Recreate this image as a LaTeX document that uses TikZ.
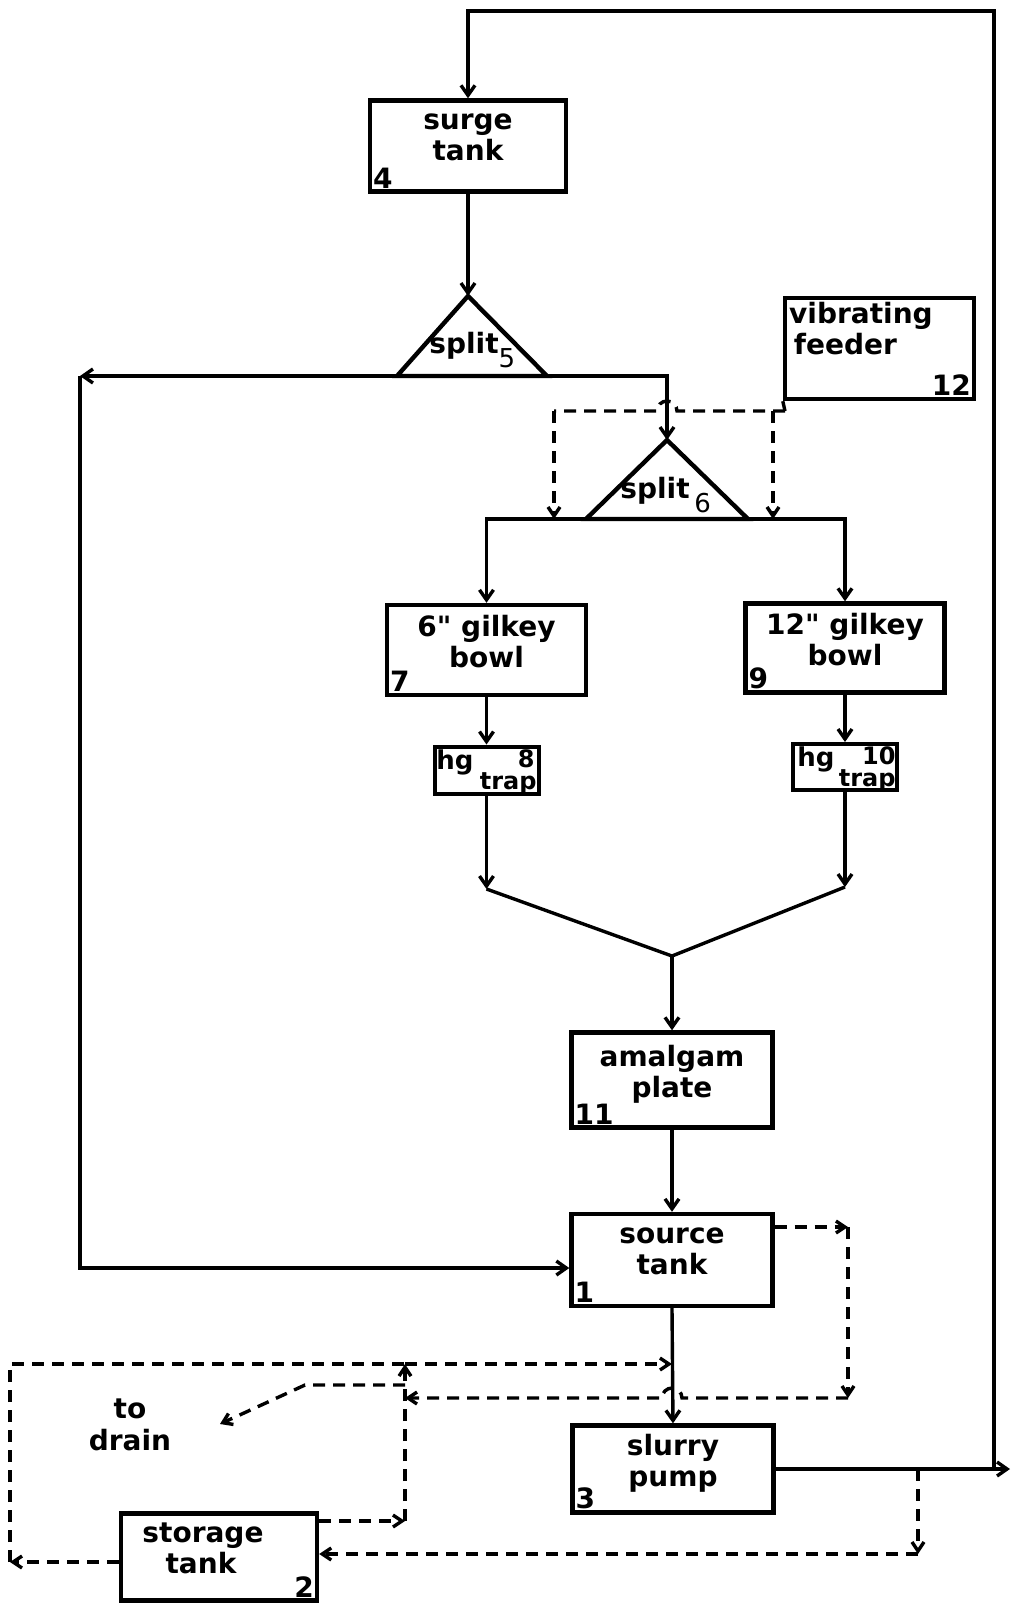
\documentclass[tikz,border=0pt]{standalone}
\usepackage{fontspec}
\setmainfont{DejaVu Sans}
\usetikzlibrary{arrows.meta,positioning,calc}
\tikzset{
  unit/.style    ={draw,line width=2.2pt,minimum width=100pt,minimum height=45pt,inner sep=0pt,align=center,font=\fontsize{14}{15.5}\selectfont\bfseries},
  tag/.style     ={inner sep=2.5pt,font=\fontsize{14}{14}\selectfont\bfseries},
  trapbox/.style ={draw,line width=2pt,minimum width=52pt,minimum height=23.5pt,inner sep=0pt},
  hglbl/.style   ={inner sep=0pt,font=\fontsize{13}{13}\selectfont\bfseries},
  traplbl/.style ={inner sep=0pt,font=\fontsize{12}{12}\selectfont\bfseries},
  splitlbl/.style={inner sep=0pt,font=\fontsize{14}{14}\selectfont\bfseries},
  splitter/.style={line width=2.2pt,line join=miter},
  pipe/.style    ={line width=1.7pt},
  flow/.style    ={pipe,-{Straight Barb[length=5pt,width=7pt]}},
  bypass/.style  ={line width=1.7pt,dash pattern=on 6pt off 4pt},
  bflow/.style   ={bypass,-{Straight Barb[length=4.5pt,width=6pt]}},
}
\newcommand{\uptext}[1]{#1\\[-7pt]\mbox{}}
\begin{document}
\begin{tikzpicture}[x=0.5pt,y=-0.5pt]
  \useasboundingbox (0,0) rectangle (1012,1603);
  \node[unit,minimum width=98pt,minimum height=45.5pt](surge) at (468,146){\uptext{surge\\tank}};
  \node[unit,minimum width=94.5pt,minimum height=50.5pt](feeder) at (879.5,348.5){};
  \node[anchor=north west,inner sep=3pt,align=left,font=\fontsize{14}{15.5}\selectfont\bfseries](feedtxt) at (feeder.north west){vibrating\\\,feeder};
  \node[unit,minimum width=99.5pt](bowl6) at (486.5,650){\uptext{6\textquotedbl\ gilkey\\bowl}};
  \node[unit,minimum width=99.5pt,minimum height=44.5pt](bowl12) at (845,648){\uptext{12\textquotedbl\ gilkey\\bowl}};
  \node[unit,minimum width=100.5pt,minimum height=47.5pt](plate) at (672,1080){\uptext{amalgam\\plate}};
  \node[unit,minimum width=100.5pt,minimum height=46pt](source) at (672,1260){\uptext{source\\tank}};
  \node[unit,minimum width=100.5pt,minimum height=43.5pt](pump) at (673,1469){\uptext{slurry\\pump}};
  \node[unit,minimum width=98pt,minimum height=43.5pt](storage) at (219,1557){\uptext{storage\rule{16pt}{0pt}\\tank\rule{18pt}{0pt}}};
  \foreach \b/\n in {surge/4,bowl6/7,bowl12/9,plate/11,source/1,pump/3}{\node[tag,anchor=south west](n\n) at (\b.south west){\n};}
  \foreach \b/\n in {feeder/12,storage/2}{\node[tag,anchor=south east](n\n) at (\b.south east){\n};}

  \node[trapbox](trap8) at (486.5,770){};
  \node[trapbox,minimum width=52pt,minimum height=23pt](trap10) at (845,767){};
  \node[hglbl,anchor=base west](hg8) at (436,769){hg};
  \node[traplbl,anchor=base east](tr8) at (537,789){trap};
  \node[traplbl,anchor=base east](num8) at (535,767){8};
  \node[hglbl,anchor=base west](hg10) at (797,766){hg};
  \node[traplbl,anchor=base east](tr10) at (896,786){trap};
  \node[traplbl,anchor=base east](num10) at (896,764){10};

  \coordinate (s5) at (468,296); \coordinate (s5l) at (397,376); \coordinate (s5r) at (547,376);
  \coordinate (s6) at (667,440); \coordinate (s6l) at (586,519); \coordinate (s6r) at (748,519);
  \draw[splitter](s5)--(s5l)--(s5r)--cycle;
  \draw[splitter](s6)--(s6l)--(s6r)--cycle;
  \node[splitlbl,anchor=base west](s5txt) at (429,353){split\raisebox{-7pt}{\fontsize{13}{13}\selectfont\mdseries 5}};
  \node[splitlbl,anchor=base west](s6txt) at (620,498){split\,\raisebox{-7pt}{\fontsize{13}{13}\selectfont\mdseries 6}};

  \coordinate (rtop) at (994,11); \coordinate (rbot) at (994,1469); \coordinate (outlet) at (1010,1469);
  \coordinate (l5) at (80,376); \coordinate (lbot) at (80,1268);
  \coordinate (m8) at (486.5,889); \coordinate (m10) at (845,887); \coordinate (mj) at (672,956);
  \draw[flow](rbot)--(rtop)-|(surge.north);
  \draw[flow](surge.south)--(s5);
  \draw[flow](s5l)--(l5);
  \draw[flow](l5)--(lbot)--(lbot -| source.west);
  \draw[flow](s5r)-|(s6);
  \draw[flow](s6l)-|(bowl6.north);
  \draw[flow](s6r)-|(bowl12.north);
  \draw[flow](bowl6.south)--(trap8.north);
  \draw[flow](bowl12.south)--(trap10.north);
  \draw[flow](trap8.south)--(m8);
  \draw[flow](trap10.south)--(m10);
  \draw[pipe](m8)--(mj)--(m10);
  \draw[flow](mj)--(plate.north);
  \draw[flow](plate.south)--(source.north);
  \draw[flow](source.south)--(pump.north);
  \draw[flow](pump.east)--(outlet);

  \coordinate (fk) at (785,411); \coordinate (fr) at (773,411); \coordinate (fl) at (554,411);
  \draw[pipe](feeder.south west)--(fk);
  \draw[bypass](fk)--(fr)--(677,411) arc (0:-180:10)--(fl);
  \draw[bflow](fr)--(fr |- s6r);
  \draw[bflow](fl)--(fl |- s6l);

  \coordinate (sr) at (848,1227); \coordinate (sd) at (848,1398); \coordinate (jx) at (405,1398);
  \draw[bflow](source.north east |- sr)--(sr);
  \draw[bflow](sr)--(sd);
  \draw[bflow](sd)--(682,1398) arc (0:-180:10)--(jx);

  \coordinate (jt) at (405,1364); \coordinate (jb) at (405,1521);
  \coordinate (lt) at (10,1364); \coordinate (lb) at (10,1562);
  \draw[bflow](storage.north east |- jb)--(jb);
  \draw[bflow](jb)--(jt);
  \draw[bflow](jt)--(jt -| source.south);
  \draw[bflow](storage.west |- lb)--(lb);
  \draw[bypass](lb)--(lt)--(jt);

  \coordinate (dk) at (305,1385); \coordinate (drain) at (220,1424);
  \draw[bflow](jt |- dk)--(dk)--(drain);
  \node[align=center,font=\fontsize{14}{16}\selectfont\bfseries](drainlbl) at (130,1425){to\\drain};

  \coordinate (pk) at (918,1469); \coordinate (pd) at (918,1554);
  \draw[bflow](pk)--(pd);
  \draw[bflow](pd)--(storage.east |- pd);
\end{tikzpicture}
\end{document}
